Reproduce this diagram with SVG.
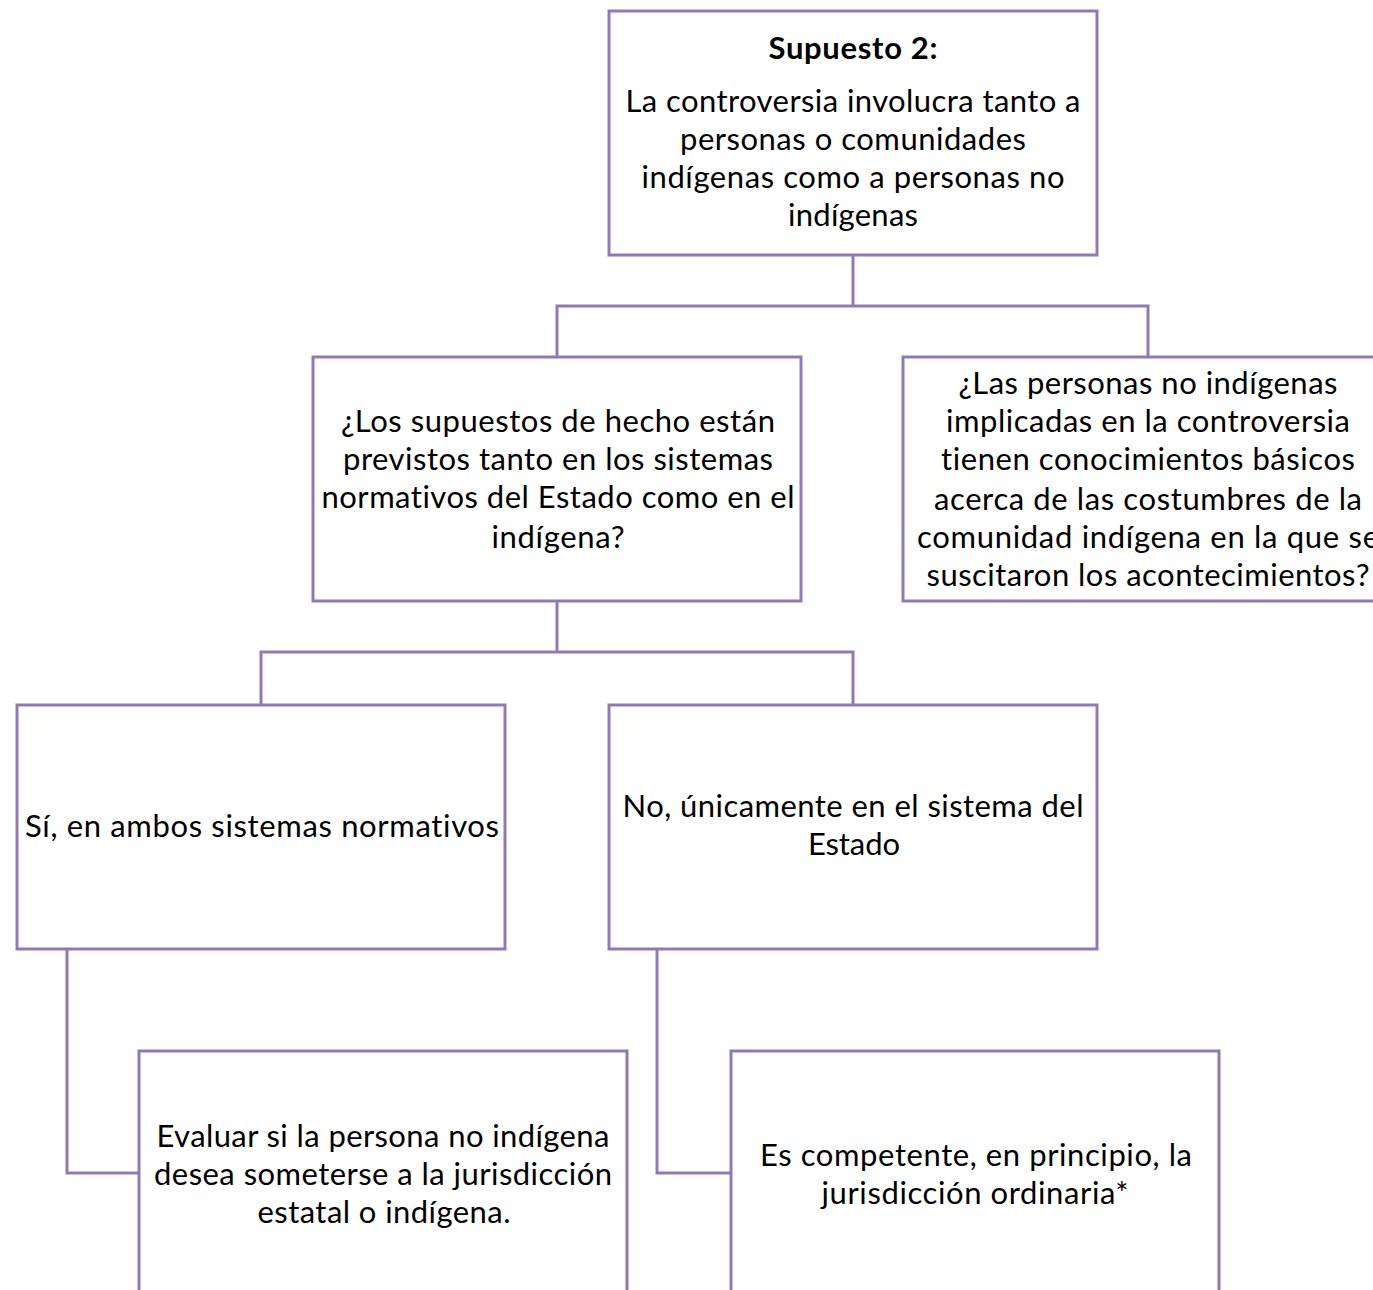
<svg xmlns="http://www.w3.org/2000/svg" width="1373" height="1290" viewBox="0 0 1373 1290">
  <style>
    .box { fill: #ffffff; stroke: #8f7ab5; stroke-width: 3; }
    .link { fill: none; stroke: #8f7ab5; stroke-width: 3; }
    text { font-family: Lato, "Liberation Sans", sans-serif; font-size: 31px; fill: #000000; text-anchor: middle; font-variant-ligatures: none; }
    .bold { font-weight: bold; }
  </style>
  <rect x="0" y="0" width="1373" height="1290" fill="#ffffff"/>

  <g id="connectors">
    <path class="link" d="M853,255 V306 M557,357 V306 H1148 V357"/>
    <path class="link" d="M557,601 V652 M261,705 V652 H853 V705"/>
    <path class="link" d="M67,949 V1173 H139"/>
    <path class="link" d="M657,949 V1173 H731"/>
  </g>

  <g id="supuesto">
    <rect class="box" x="609" y="11" width="488" height="244"/>
    <text class="bold" x="853" y="59" textLength="169" lengthAdjust="spacing">Supuesto 2:</text>
    <text x="853" y="112" textLength="455" lengthAdjust="spacing">La controversia involucra tanto a</text>
    <text x="853" y="150" textLength="346" lengthAdjust="spacing">personas o comunidades</text>
    <text x="853" y="188" textLength="423" lengthAdjust="spacing">indígenas como a personas no</text>
    <text x="853" y="226" textLength="130" lengthAdjust="spacing">indígenas</text>
  </g>

  <g id="hechos">
    <rect class="box" x="313" y="357" width="488" height="244"/>
    <text x="558" y="432" textLength="434" lengthAdjust="spacing">¿Los supuestos de hecho están</text>
    <text x="558" y="470" textLength="430" lengthAdjust="spacing">previstos tanto en los sistemas</text>
    <text x="558" y="508" textLength="473" lengthAdjust="spacing">normativos del Estado como en el</text>
    <text x="558" y="548" textLength="133" lengthAdjust="spacing">indígena?</text>
  </g>

  <g id="conocimientos">
    <rect class="box" x="903" y="357" width="488" height="244"/>
    <text x="1148" y="394" textLength="379" lengthAdjust="spacing">¿Las personas no indígenas</text>
    <text x="1148" y="432" textLength="404" lengthAdjust="spacing">implicadas en la controversia</text>
    <text x="1148" y="470" textLength="414" lengthAdjust="spacing">tienen conocimientos básicos</text>
    <text x="1148" y="510" textLength="428" lengthAdjust="spacing">acerca de las costumbres de la</text>
    <text x="1148" y="548" textLength="462" lengthAdjust="spacing">comunidad indígena en la que se</text>
    <text x="1148" y="586" textLength="443" lengthAdjust="spacing">suscitaron los acontecimientos?</text>
  </g>

  <g id="ambos">
    <rect class="box" x="17" y="705" width="488" height="244"/>
    <text x="262" y="837" textLength="474" lengthAdjust="spacing">Sí, en ambos sistemas normativos</text>
  </g>

  <g id="estado">
    <rect class="box" x="609" y="705" width="488" height="244"/>
    <text x="853" y="817" textLength="461" lengthAdjust="spacing">No, únicamente en el sistema del</text>
    <text x="854" y="855" textLength="92" lengthAdjust="spacing">Estado</text>
  </g>

  <g id="evaluar">
    <rect class="box" x="139" y="1051" width="488" height="260"/>
    <text x="383" y="1147" textLength="453" lengthAdjust="spacing">Evaluar si la persona no indígena</text>
    <text x="383" y="1185" textLength="458" lengthAdjust="spacing">desea someterse a la jurisdicción</text>
    <text x="384" y="1223" textLength="253" lengthAdjust="spacing">estatal o indígena.</text>
  </g>

  <g id="ordinaria">
    <rect class="box" x="731" y="1051" width="488" height="260"/>
    <text x="976" y="1166" textLength="432" lengthAdjust="spacing">Es competente, en principio, la</text>
    <text x="975" y="1204" textLength="307" lengthAdjust="spacing">jurisdicción ordinaria*</text>
  </g>
</svg>
